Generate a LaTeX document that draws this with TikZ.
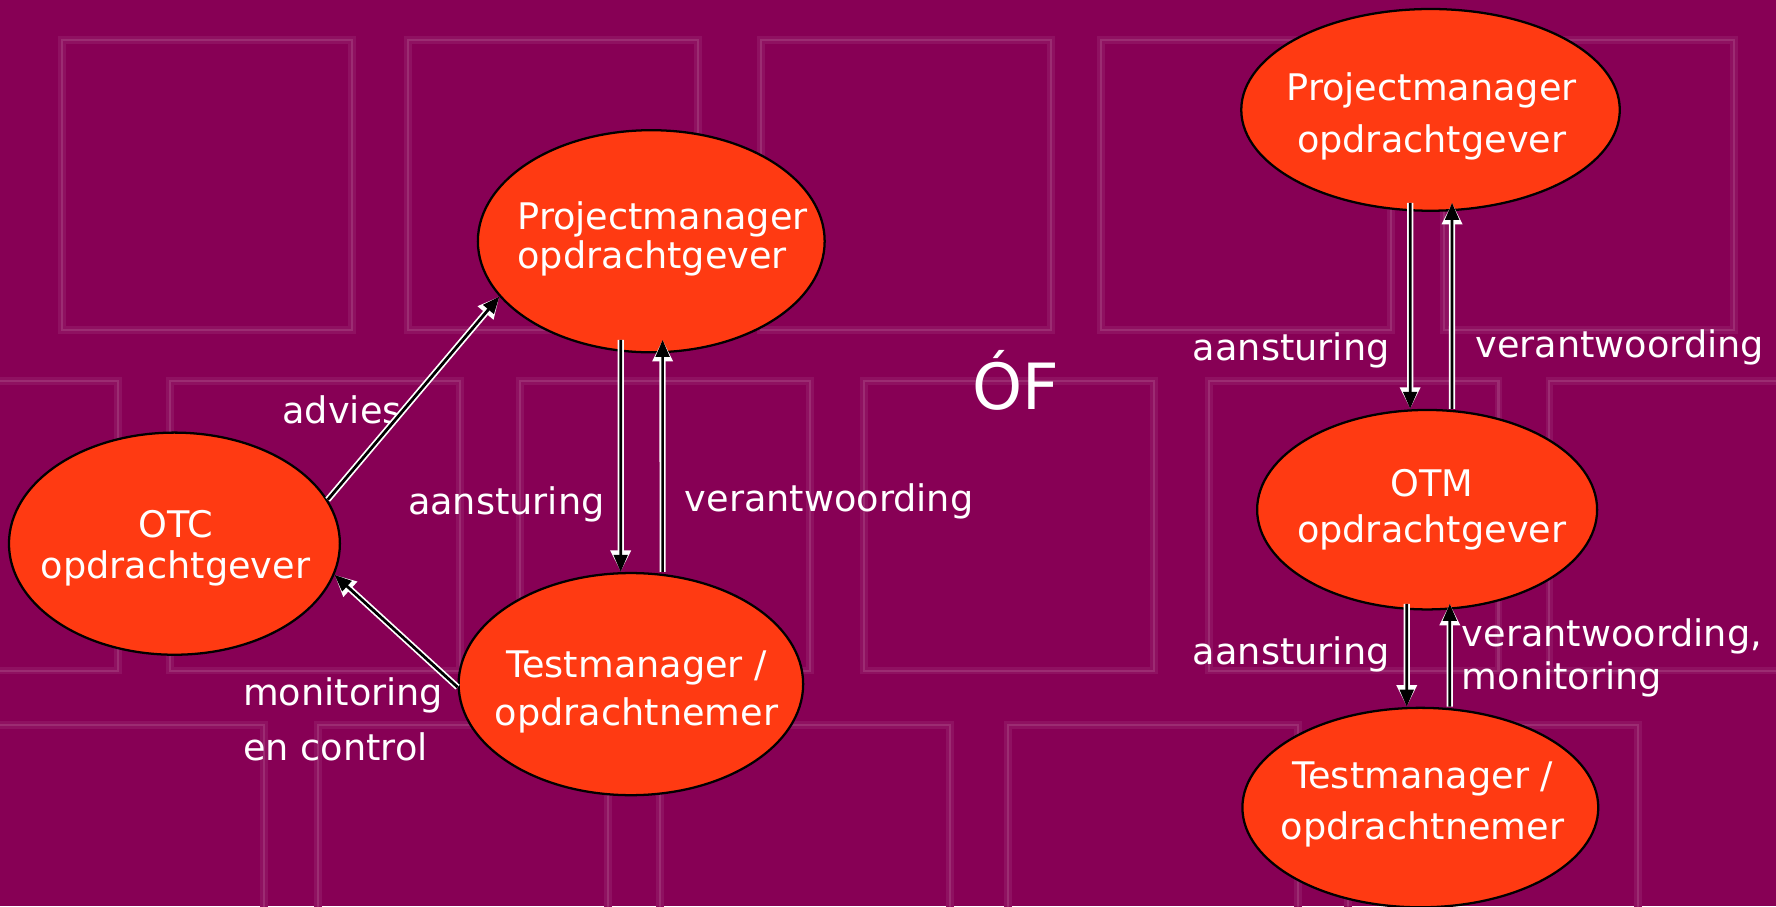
\documentclass[tikz,border=0pt]{standalone}
\usepackage{fontspec}
\setmainfont{DejaVu Sans}
\usetikzlibrary{arrows.meta,shapes.geometric}
\definecolor{plum}{HTML}{870055}
\definecolor{tile}{HTML}{8F1161}
\definecolor{tileedge}{HTML}{9C2C72}
\definecolor{blob}{HTML}{FF3A12}

\begin{document}
\begin{tikzpicture}[x=0.01cm,y=-0.01cm,
  square/.style={tile,line width=0.07cm,postaction={draw=tileedge,line width=0.018cm}},
  role/.style={ellipse,draw=black,line width=0.02cm,fill=blob,inner sep=0pt},
  lbl/.style={text=white,inner sep=0pt,font=\fontsize{9.2}{11.4}\selectfont},
  flow/.style={line width=0.024cm,-{Triangle[length=0.15cm,width=0.12cm]},
    preaction={draw=white,line width=0.055cm,-{Triangle[length=0.19cm,width=0.17cm]}}}]
\clip (0,0) rectangle (1568,800);
\fill[plum] (0,0) rectangle (1568,800);
\foreach \x in {55,360,672,972,1275}
  \draw[square] (\x,35) rectangle ++(256,256);
\foreach \x in {-152,150,459,763,1067,1368}
  \draw[square] (\x,336) rectangle ++(256,256);
\foreach \x in {-23,281,583,890,1190}
  \draw[square] (\x,640) rectangle ++(256,256);

\node[role,minimum width=3.06cm,minimum height=1.96cm] (pmL) at (575,213) {};
\node[role,minimum width=2.92cm,minimum height=1.96cm] (otc) at (154,480) {};
\node[role,minimum width=3.04cm,minimum height=1.96cm] (tmL) at (557,604) {};
\node[role,minimum width=3.34cm,minimum height=1.78cm] (pmR) at (1263,97) {};
\node[role,minimum width=3.00cm,minimum height=1.76cm] (otm) at (1260,450) {};
\node[role,minimum width=3.14cm,minimum height=1.76cm] (tmR) at (1254,713) {};

\node[lbl,align=left,font=\fontsize{9.2}{9.7}\selectfont] (pmLtxt) at (585,211) {Projectmanager\\opdrachtgever};
\node[lbl,align=center,font=\fontsize{9.2}{10.2}\selectfont] (otctxt) at (155,484) {OTC\\opdrachtgever};
\node[lbl,align=center,font=\fontsize{9.2}{12}\selectfont] (tmLtxt) at (562,611) {Testmanager /\\opdrachtnemer};
\node[lbl,align=center,font=\fontsize{9.2}{13}\selectfont] (pmRtxt) at (1264,103) {Projectmanager\\opdrachtgever};
\node[lbl,align=center] (otmtxt) at (1264,450) {OTM\\opdrachtgever};
\node[lbl,align=center,font=\fontsize{9.2}{12.8}\selectfont] (tmRtxt) at (1256,710) {Testmanager /\\opdrachtnemer};

\node[lbl] (advies) at (302,362) {advies};
\node[lbl] (stuurL) at (447,445) {aansturing};
\node[lbl] (verantL) at (732,443) {verantwoording};
\node[lbl,anchor=west,align=left,font=\fontsize{9.2}{14}\selectfont] (moni) at (214,635) {monitoring\\en control};
\node[lbl,font=\fontsize{16}{18}\selectfont] (of) at (897,336) {ÓF};
\node[lbl] (stuurR) at (1140,309) {aansturing};
\node[lbl] (verantR) at (1430,307) {verantwoording};
\node[lbl] (stuurR2) at (1140,578) {aansturing};
\node[lbl,anchor=west,align=left,font=\fontsize{9.2}{10.8}\selectfont] (verantR2) at (1290,581) {verantwoording,\\monitoring};

\draw[flow] (otc.16) -- (pmL.200);
\draw[flow] (tmL.181) -- (otc.-11);
\draw[flow] ([xshift=-0.27cm,yshift=0.12cm]pmL.south) -- ([xshift=-0.09cm]tmL.north);
\draw[flow] ([xshift=0.28cm]tmL.north) -- ([xshift=0.10cm,yshift=0.12cm]pmL.south);
\draw[flow] ([xshift=-0.18cm,yshift=0.08cm]pmR.south) -- ([xshift=-0.15cm]otm.north);
\draw[flow] ([xshift=0.22cm]otm.north) -- ([xshift=0.19cm,yshift=0.08cm]pmR.south);
\draw[flow] ([xshift=-0.18cm,yshift=0.06cm]otm.south) -- ([xshift=-0.12cm]tmR.north);
\draw[flow] ([xshift=0.26cm]tmR.north) -- ([xshift=0.20cm,yshift=0.06cm]otm.south);
\end{tikzpicture}
\end{document}
